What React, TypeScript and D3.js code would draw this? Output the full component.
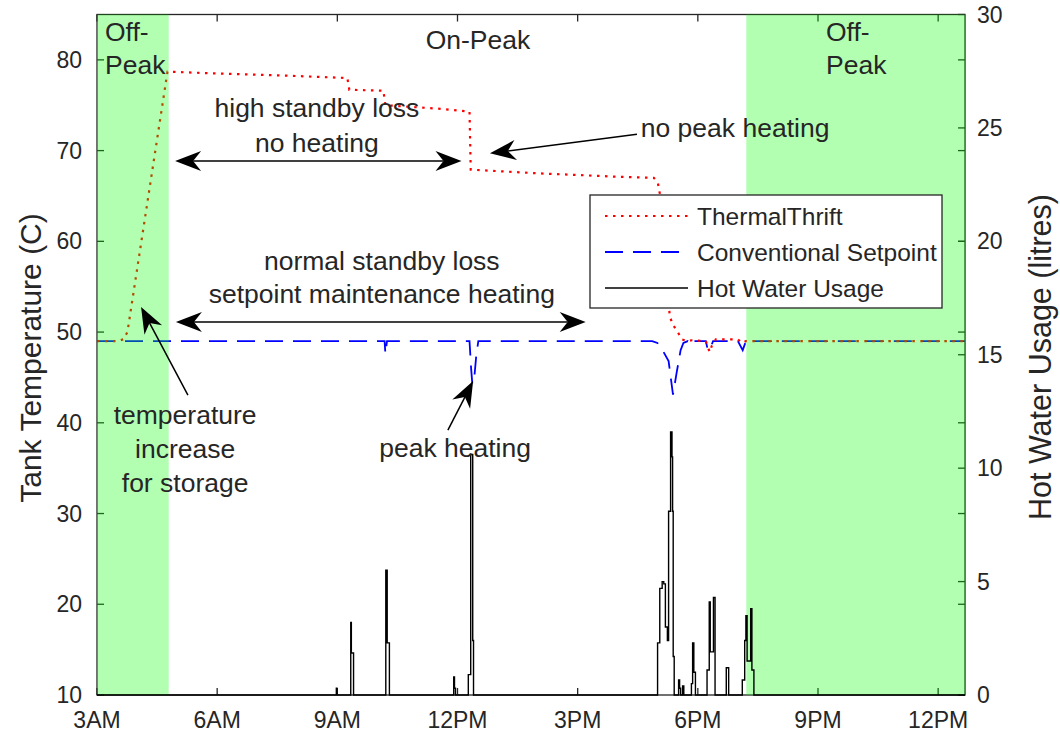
import React from 'react';
import * as d3 from 'd3';

// ---- data ----
const timeTicks = [3, 6, 9, 12, 15, 18, 21, 24];
const timeTickLabels = ['3AM', '6AM', '9AM', '12PM', '3PM', '6PM', '9PM', '12PM'];
const tempTicks = [10, 20, 30, 40, 50, 60, 70, 80];
const usageTicks = [0, 5, 10, 15, 20, 25, 30];

// off-peak tariff windows (hour of day, continuing past midnight)
const offPeakStart = [3, 19.21];
const offPeakEnd = [4.79, 24.67];

const thermalHours = [3.0, 3.52, 3.66, 3.76, 4.76, 6.0, 7.5, 9.25, 9.3, 10.15, 10.2, 11.6, 12.3, 12.33, 14.0, 16.1, 16.9, 17.0, 17.05, 17.3, 17.38, 17.5, 17.6, 17.75, 17.85, 18.2, 18.25, 18.3, 18.35, 18.45, 19.0, 19.1, 19.2, 24.67];
const thermalTemp = [49, 49, 49.2, 50, 78.7, 78.5, 78.3, 78.0, 76.7, 76.6, 75.0, 74.6, 74.3, 67.9, 67.5, 67.1, 67.0, 66.5, 65.3, 51.7, 50.8, 50.0, 49.2, 49.0, 49.1, 49.0, 48.3, 47.8, 48.5, 49.2, 49.2, 48.8, 49.0, 49.0];

const conventionalHours = [3.0, 10.18, 10.2, 10.24, 12.3, 12.34, 12.37, 12.42, 12.47, 12.52, 16.86, 16.99, 17.12, 17.27, 17.38, 17.47, 17.57, 17.64, 17.75, 17.85, 17.9, 18.2, 18.25, 18.32, 18.38, 19.0, 19.12, 19.2, 24.67];
const conventionalTemp = [49, 49, 47.6, 49, 49, 46, 44.3, 45, 47.5, 49, 49, 48.8, 48.0, 46.8, 43.1, 45.5, 48, 48.8, 49, 48.6, 49, 49, 48.0, 48.3, 49, 49, 48.0, 49, 49];

// hot water draws: each entry holds its value until the next entry
const usageHours = [3.0, 8.975, 8.99, 9.335, 9.35, 9.405, 10.21, 10.245, 10.30, 11.905, 11.925, 11.95, 12.27, 12.33, 12.38, 12.40,
  16.995, 17.05, 17.11, 17.15, 17.19, 17.24, 17.27, 17.32, 17.355, 17.37, 17.385, 17.41,
  17.52, 17.545, 17.57, 17.62, 17.65, 17.84, 17.87, 17.9, 17.94,
  18.23, 18.285, 18.31, 18.39, 18.43, 18.71, 18.77,
  19.11, 19.17, 19.2, 19.23, 19.32, 19.35, 19.4, 24.67];
const usageLitres = [0, 0.3, 0, 3.2, 1.85, 0, 5.5, 2.3, 0, 0.8, 0.3, 0, 0.9, 10.6, 2.4, 0,
  2.3, 4.7, 5.0, 4.9, 3.0, 2.4, 8.1, 11.6, 10.5, 8.1, 1.7, 0,
  0.66, 0.3, 0, 0.4, 0, 0.5, 2.3, 1.0, 0,
  1.1, 4.1, 1.9, 4.3, 0, 1.2, 0,
  0.66, 2.4, 3.5, 1.5, 3.8, 1.1, 0, 0];

const seriesNames = ['ThermalThrift', 'Conventional Setpoint', 'Hot Water Usage'];

// ---- layout ----
const W = 1060;
const H = 740;
const plot = { left: 97, right: 965, top: 14.5, bottom: 695 };
const axisColor = '#262626';
const textColor = '#262626';
const font = '"Liberation Sans", Arial, Helvetica, sans-serif';
const tickLen = 7;
const noteSize = 26.5;

const x = d3.scaleLinear().domain([3, 24.67]).range([plot.left, plot.right]);
const yT = d3.scaleLinear().domain([10, 85]).range([plot.bottom, plot.top]);
const yU = d3.scaleLinear().domain([0, 30]).range([plot.bottom, plot.top]);

const tempLine = d3.line<[number, number]>().x(d => x(d[0])).y(d => yT(d[1]));
const usageLine = d3.line<[number, number]>().x(d => x(d[0])).y(d => yU(d[1])).curve(d3.curveStepAfter);

const zip = (a: number[], b: number[]) => a.map((v, i) => [v, b[i]] as [number, number]);

type Pt = [number, number];

function Arrow({ from, to, both = false }: { from: Pt; to: Pt; both?: boolean }) {
  const p0: Pt = [x(from[0]), yT(from[1])];
  const p1: Pt = [x(to[0]), yT(to[1])];
  const L = 26, Wd = 10, N = 18;
  const head = (tip: Pt, tail: Pt) => {
    const dx = tip[0] - tail[0], dy = tip[1] - tail[1];
    const len = Math.hypot(dx, dy);
    const ux = dx / len, uy = dy / len, px = -uy, py = ux;
    const pts = [
      [tip[0], tip[1]],
      [tip[0] - L * ux + Wd * px, tip[1] - L * uy + Wd * py],
      [tip[0] - N * ux, tip[1] - N * uy],
      [tip[0] - L * ux - Wd * px, tip[1] - L * uy - Wd * py],
    ];
    return { pts: pts.map(p => p.join(',')).join(' '), back: [tip[0] - N * ux, tip[1] - N * uy] as Pt };
  };
  const h1 = head(p1, p0);
  const h0 = both ? head(p0, p1) : null;
  const s = h0 ? h0.back : p0;
  return (
    <g>
      <line x1={s[0]} y1={s[1]} x2={h1.back[0]} y2={h1.back[1]} stroke="#000" strokeWidth={1.5} />
      <polygon points={h1.pts} fill="#000" />
      {h0 && <polygon points={h0.pts} fill="#000" />}
    </g>
  );
}

function Label({ at, lines, anchor = 'middle', gap = 35, size = noteSize }: { at: Pt; lines: string[]; anchor?: string; gap?: number; size?: number }) {
  return (
    <text x={x(at[0])} y={yT(at[1])} textAnchor={anchor} fontSize={size} fill={textColor} fontFamily={font}>
      {lines.map((l, i) => (
        <tspan key={i} x={x(at[0])} dy={i === 0 ? 0 : gap}>{l}</tspan>
      ))}
    </text>
  );
}

export default function App() {
  const thermal = zip(thermalHours, thermalTemp);
  const conventional = zip(conventionalHours, conventionalTemp);
  const usage = zip(usageHours, usageLitres);

  const legendRows = [
    { name: seriesNames[0], stroke: '#ff0000', dash: '2.5,5.5', width: 2.2 },
    { name: seriesNames[1], stroke: '#0000ff', dash: '18,10', width: 1.8 },
    { name: seriesNames[2], stroke: '#000000', dash: undefined, width: 1.5 },
  ];

  return (
    <svg width={W} height={H} style={{ position: 'absolute', left: 0, top: 0, background: '#fff' }}>
      <rect x={0} y={0} width={W} height={H} fill="#fff" />

      {/* temperature series */}
      <path d={tempLine(conventional) || ''} fill="none" stroke="#0000ff" strokeWidth={1.8} strokeDasharray="18,10" />
      <path d={tempLine(thermal) || ''} fill="none" stroke="#ff0000" strokeWidth={2.2} strokeDasharray="2.5,5.5" />

      {/* axes box and ticks */}
      <g stroke={axisColor} strokeWidth={1.3} fill="none">
        <rect x={plot.left} y={plot.top} width={plot.right - plot.left} height={plot.bottom - plot.top} />
        {timeTicks.map(t => (
          <g key={'t' + t}>
            <line x1={x(t)} x2={x(t)} y1={plot.bottom} y2={plot.bottom - tickLen} />
            <line x1={x(t)} x2={x(t)} y1={plot.top} y2={plot.top + tickLen} />
          </g>
        ))}
        {tempTicks.map(t => (
          <g key={'l' + t}>
            <line x1={plot.left} x2={plot.left + tickLen} y1={yT(t)} y2={yT(t)} />
            <line x1={plot.right} x2={plot.right - tickLen} y1={yT(t)} y2={yT(t)} />
          </g>
        ))}
        {usageTicks.map(t => (
          <line key={'r' + t} x1={plot.right} x2={plot.right - tickLen} y1={yU(t)} y2={yU(t)} />
        ))}
      </g>

      {/* off-peak shading */}
      {offPeakStart.map((s, i) => (
        <rect key={'op' + i} x={x(s)} y={plot.top} width={x(offPeakEnd[i]) - x(s)} height={plot.bottom - plot.top}
          fill="rgb(0,255,0)" fillOpacity={0.3} />
      ))}

      {/* hot water usage on the right axis */}
      <path d={usageLine(usage) || ''} fill="none" stroke="#000" strokeWidth={1.4} />

      {/* tick labels */}
      <g fontFamily={font} fontSize={23} fill={textColor}>
        {timeTicks.map((t, i) => (
          <text key={'tl' + t} x={x(t)} y={728} textAnchor="middle">{timeTickLabels[i]}</text>
        ))}
        {tempTicks.map(t => (
          <text key={'ll' + t} x={plot.left - 15} y={yT(t)} dy="0.35em" textAnchor="end">{t}</text>
        ))}
        {usageTicks.map(t => (
          <text key={'rl' + t} x={plot.right + 12} y={yU(t)} dy="0.35em" textAnchor="start">{t}</text>
        ))}
      </g>

      {/* axis titles */}
      <text transform={`translate(41, 358) rotate(-90)`} textAnchor="middle"
        fontFamily={font} fontSize={30} fill={textColor}>Tank Temperature (C)</text>
      <text transform={`translate(1051, 357) rotate(-90)`} textAnchor="middle"
        fontFamily={font} fontSize={30.5} fill={textColor}>Hot Water Usage (litres)</text>

      {/* tariff period labels */}
      <Label at={[3.2, 82.1]} lines={['Off-', 'Peak']} anchor="start" gap={33} />
      <Label at={[21.2, 82.1]} lines={['Off-', 'Peak']} anchor="start" gap={33} />
      <Label at={[12.51, 81.2]} lines={['On-Peak']} />

      {/* annotations */}
      <Label at={[8.49, 73.7]} lines={['high standby loss', 'no heating']} />
      <Arrow from={[4.95, 68.86]} to={[12.1, 68.86]} both />

      <Label at={[10.11, 56.84]} lines={['normal standby loss', 'setpoint maintenance heating']} gap={33} />
      <Arrow from={[4.97, 51.1]} to={[15.2, 51.1]} both />

      <Label at={[18.93, 71.5]} lines={['no peak heating']} />
      <Arrow from={[16.48, 71.8]} to={[12.81, 69.7]} />

      <Label at={[5.2, 39.87]} lines={['temperature', 'increase', 'for storage']} gap={34} />
      <Arrow from={[5.27, 43.06]} to={[4.1, 52.76]} />

      <Label at={[11.94, 36.2]} lines={['peak heating']} />
      <Arrow from={[11.76, 39.2]} to={[12.39, 44.6]} />

      {/* legend */}
      <g>
        <rect x={590} y={195} width={352} height={113} fill="#fff" stroke={axisColor} strokeWidth={1.3} />
        {legendRows.map((r, i) => {
          const yy = 216 + i * 36;
          return (
            <g key={r.name}>
              <line x1={605} x2={688} y1={yy} y2={yy} stroke={r.stroke} strokeWidth={r.width} strokeDasharray={r.dash} />
              <text x={697} y={yy} dy="0.35em" fontFamily={font} fontSize={24.5} fill={textColor}>{r.name}</text>
            </g>
          );
        })}
      </g>
    </svg>
  );
}
